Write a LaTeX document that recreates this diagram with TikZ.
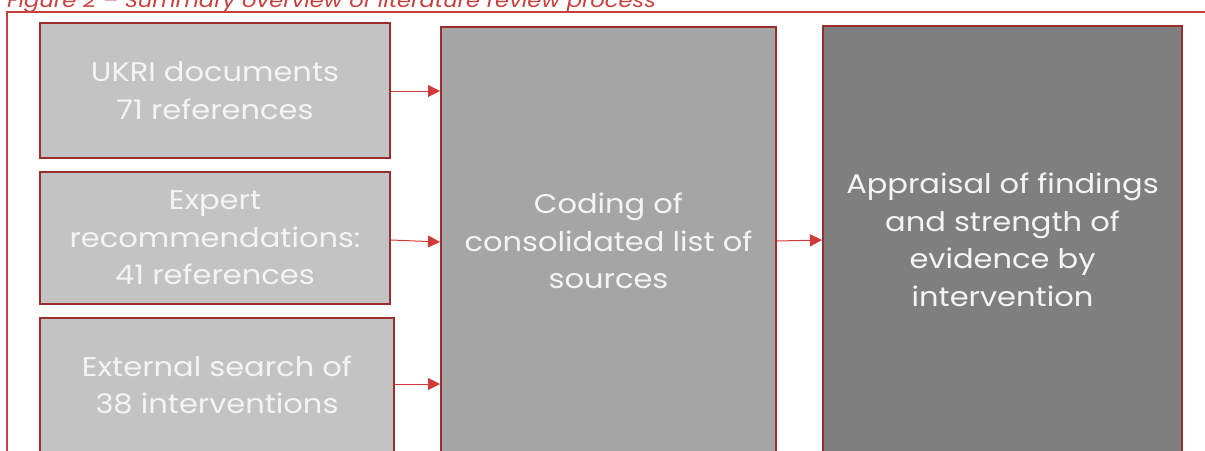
\documentclass[tikz,border=0pt]{standalone}
\usepackage{fontspec}
\setmainfont{Poppins}[FakeStretch=1.13]
\usetikzlibrary{arrows.meta}
\definecolor{boxred}{HTML}{9B2D2D}
\definecolor{framered}{HTML}{C8403E}
\definecolor{arrred}{HTML}{D03A3A}
\definecolor{g1}{HTML}{C3C3C3}
\definecolor{g2}{HTML}{A5A5A5}
\definecolor{g3}{HTML}{7F7F7F}
\definecolor{txt}{HTML}{F4F4F4}
\tikzset{
  box/.style={draw=boxred, line width=2pt, rectangle, inner sep=0pt, align=center,
    text=txt, font=\fontsize{27}{37.5}\selectfont},
  conn/.style={draw=arrred, line width=1pt, -{Triangle[width=12pt,length=12pt]}},
}
\begin{document}
\begin{tikzpicture}[x=1pt,y=-1pt]
\clip (0,0) rectangle (1205,450);
\useasboundingbox (0,0) rectangle (1205,450);
\fill[white] (0,0) rectangle (1205,450);
\draw[framered, line width=2pt] (7,470) -- (7,12) -- (1215,12);
\node[anchor=base west, text=framered, font=\fontsize{20}{24}\itshape\selectfont, inner sep=0pt] (cap) at (7,7) {Figure 2 – Summary overview of literature review process};
\node[box, fill=g1, minimum width=350pt, minimum height=135pt] (a) at (215,90.5) {UKRI documents\\71 references};
\node[box, fill=g1, minimum width=350pt, minimum height=132pt] (b) at (215,238) {Expert\\recommendations:\\41 references};
\node[box, fill=g1, minimum width=354pt, minimum height=134pt] (c) at (217,385) {External search of\\38 interventions};
\node[box, fill=g2, minimum width=335pt, minimum height=428pt] (d) at (608.5,241) {Coding of\\consolidated list of\\sources};
\node[box, fill=g3, minimum width=359pt, minimum height=428pt] (e) at (1002.5,240) {Appraisal of findings\\and strength of\\evidence by\\intervention};
\draw[conn] (a.east |- 0,91) -- (d.west |- 0,91);
\draw[conn] (b.east |- 0,240) -- (d.west |- 0,242);
\draw[conn] (c.east |- 0,384) -- (d.west |- 0,384);
\draw[conn] (d.east |- 0,241) -- (e.west |- 0,240);
\end{tikzpicture}
\end{document}
